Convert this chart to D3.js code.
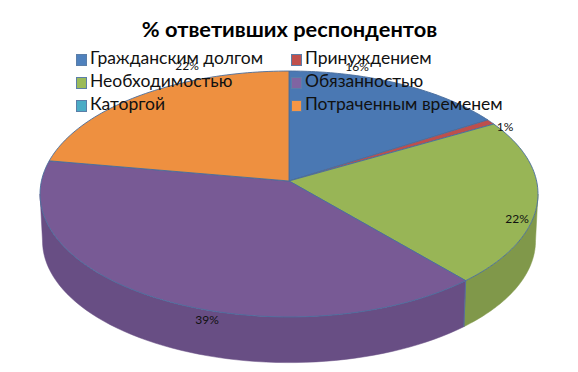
<!DOCTYPE html>
<html><head><meta charset="utf-8">
<script src="https://cdn.jsdelivr.net/npm/d3@7"></script>
<style>html,body{margin:0;padding:0;background:#fff}svg{display:block}text{font-family:Lato,"Open Sans",sans-serif}</style>
</head><body><svg id="c" width="578" height="372"></svg>
<script>
const titleText = "% ответивших респондентов";
const categories = ["Гражданским долгом","Принуждением","Необходимостью","Обязанностью","Каторгой","Потраченным временем"];
const values = [16.1,0.7,21.8,39.1,0,22.3];
const topColors = ["#4a78b3","#bd4f4c","#98b556","#785a95","#46a5c0","#ee9040"];
const wallColors = ["#3f6698","#a04340","#80984a","#684e84","#3b8ca3","#c97a36"];
const legendColors = ["#4f81bd","#c0504d","#9bbb59","#8064a2","#4bacc6","#f79646"];

// layout
const W=578,H=372,cx=289,cy=181,rx=247.6,ry=121.6,persp=0.1057,depth=47,bottomScale=0.99;
const labelAt=[[357,71],[505,131],[517,223],[207,324],null,[187,70]];
const svg=d3.select("#c");
svg.append("rect").attr("width",W).attr("height",H).attr("fill","#fff");

function proj(a,r,dy,s){ // a clockwise from top, r fraction of radius
  const u=r*Math.sin(a),v=-r*Math.cos(a),q=1-persp*v;
  return [cx+s*rx*u/q, cy+dy+s*ry*v/q];
}
const arcs=d3.pie().sort(null).value(d=>d)(values).map((d,i)=>({...d,i}));
const line=d3.line();
const rim=(a0,a1,dy,s)=>d3.range(0,61).map(k=>proj(a0+(a1-a0)*k/60,1,dy,s));
// silhouette tangents of the projected disc
const tangent=Math.asin(persp);
const wallFrom=Math.PI/2+tangent, wallTo=Math.PI*1.5-tangent;

// side walls
const g=svg.append("g");
g.selectAll("path.wall").data(arcs.filter(d=>d.value>0)).join("path").attr("class","wall")
 .attr("d",d=>{
   const lo=Math.max(d.startAngle,wallFrom),hi=Math.min(d.endAngle,wallTo);
   if(hi<=lo) return null;
   return line(rim(lo,hi,0,1).concat(rim(hi,lo,depth,bottomScale)))+"Z";
 })
 .attr("fill",d=>wallColors[d.i]).attr("stroke",d=>wallColors[d.i]).attr("stroke-width",0.5);
// edge between green and purple walls
const edgeA=arcs[2].endAngle;
g.append("path").attr("d",line([proj(edgeA,1,0,1),proj(edgeA,1,depth,bottomScale)])).attr("stroke","#55709a").attr("stroke-width",1).attr("fill","none");

// top faces
g.selectAll("path.top").data(arcs.filter(d=>d.value>0)).join("path").attr("class","top")
 .attr("d",d=>line([[cx,cy]].concat(rim(d.startAngle,d.endAngle,0,1)))+"Z")
 .attr("fill",d=>topColors[d.i]).attr("stroke","#4a6d9c").attr("stroke-width",0.9).attr("stroke-linejoin","round");

// title
svg.append("text").attr("x",289.5).attr("y",37).attr("text-anchor","middle")
 .attr("font-size",21.8).attr("font-weight",700).attr("fill","#000").text(titleText);

// legend
const legX=[76,291],legY=[54,77,100];
const leg=svg.selectAll("g.leg").data(categories).join("g").attr("class","leg")
 .attr("transform",(d,i)=>`translate(${legX[i%2]},${legY[Math.floor(i/2)]})`);
leg.append("rect").attr("x",0.5).attr("y",0.5).attr("width",10).attr("height",11)
 .attr("fill",(d,i)=>legendColors[i]).attr("stroke","#5b7ea8").attr("stroke-width",1);
leg.append("text").attr("x",14).attr("y",10).attr("font-size",17.5).attr("fill","#111").text(d=>d);

// labels
svg.selectAll("text.lab").data(arcs.filter(d=>labelAt[d.i])).join("text").attr("class","lab")
 .attr("x",d=>labelAt[d.i][0]).attr("y",d=>labelAt[d.i][1]).attr("text-anchor","middle")
 .attr("font-size",12).attr("fill","#111").text(d=>Math.round(d.value)+"%");
</script></body></html>
